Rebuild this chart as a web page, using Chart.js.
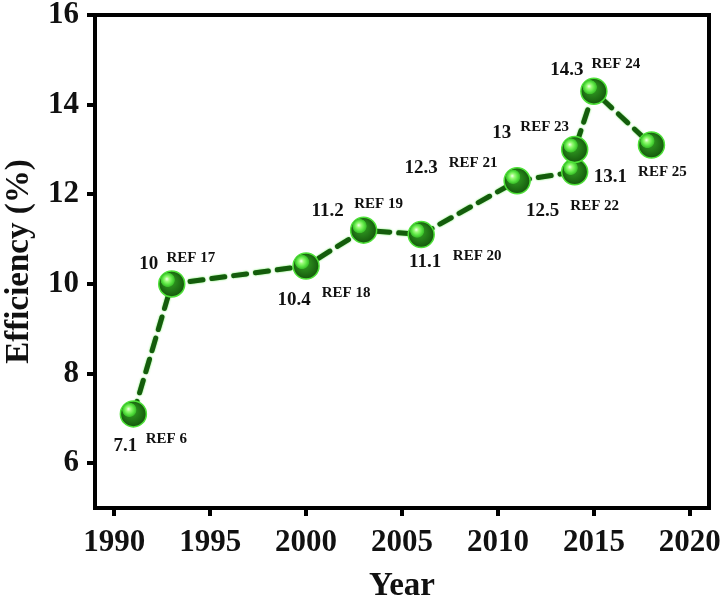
<!DOCTYPE html>
<html>
<head>
<meta charset="utf-8">
<title>Efficiency by year</title>
<script src="https://cdn.jsdelivr.net/npm/chart.js@4/dist/chart.umd.min.js"></script>
<style>
  html, body { margin: 0; padding: 0; background: #fff; }
  #wrap { width: 724px; height: 606px; position: relative; }
</style>
</head>
<body>
<div id="wrap"><canvas id="chart"></canvas></div>
<script>
// data
const years = [1991, 1993, 2000, 2003, 2006, 2011, 2014, 2014, 2015, 2018];
const efficiency = [7.1, 10, 10.4, 11.2, 11.1, 12.3, 12.5, 13.0, 14.3, 13.1];
const valueLabels = ['7.1', '10', '10.4', '11.2', '11.1', '12.3', '12.5', '13', '14.3', '13.1'];
const refLabels = ['REF 6', 'REF 17', 'REF 18', 'REF 19', 'REF 20', 'REF 21', 'REF 22', 'REF 23', 'REF 24', 'REF 25'];
const xTicks = [1990, 1995, 2000, 2005, 2010, 2015, 2020];
const yTicks = [6, 8, 10, 12, 14, 16];

// where each annotation sits relative to its point (px)
const valueOffsets = [[-8, 32], [-23, -20], [-12, 34], [-36, -19], [4, 27], [-96, -13], [-32, 39], [-73, -16], [-27, -21], [-41, 32]];
const refOffsets = [[33, 25], [19, -26], [40, 27], [15, -26], [56, 22], [-44, -18], [20, 34], [-30, -22], [22, -27], [11, 27]];

const SERIF = '"Liberation Serif", "Times New Roman", serif';

// outer box (top + right edge) like the original frame
const frame = {
  id: 'frame',
  afterDraw(chart){
    const {ctx, chartArea: a} = chart;
    ctx.save();
    ctx.strokeStyle = '#000';
    ctx.lineWidth = 4;
    ctx.beginPath();
    ctx.moveTo(a.left - 2, a.top);
    ctx.lineTo(a.right, a.top);
    ctx.lineTo(a.right, a.bottom + 2);
    ctx.stroke();
    ctx.restore();
  }
};

// thin light-green glow around the dashed line
const glow = {
  id: 'glow',
  beforeDatasetDraw(chart){
    chart.ctx.save();
    chart.ctx.shadowColor = 'rgba(80,230,60,0.9)';
    chart.ctx.shadowBlur = 2;
  },
  afterDatasetDraw(chart){
    chart.ctx.restore();
  }
};

// glossy sphere look + text labels
const spheres = {
  id: 'spheres',
  afterDatasetsDraw(chart){
    const ctx = chart.ctx;
    const meta = chart.getDatasetMeta(0);
    ctx.save();
    meta.data.forEach(pt => {
      const x = pt.x, y = pt.y;
      const body = ctx.createRadialGradient(x - 3, y - 4, 2, x, y, 14);
      body.addColorStop(0, '#33a323');
      body.addColorStop(0.6, '#207315');
      body.addColorStop(1, '#13530b');
      ctx.beginPath();
      ctx.arc(x, y, 13, 0, Math.PI * 2);
      ctx.fillStyle = body;
      ctx.fill();
      ctx.lineWidth = 1.5;
      ctx.strokeStyle = '#4ee238';
      ctx.stroke();
      const hl = ctx.createRadialGradient(x - 5, y - 5, 0, x - 4, y - 4, 7.5);
      hl.addColorStop(0, '#f4ffee');
      hl.addColorStop(0.3, '#9cfb7a');
      hl.addColorStop(0.65, '#5ae443');
      hl.addColorStop(0.9, '#3cc12b');
      hl.addColorStop(1, 'rgba(50,170,35,0)');
      ctx.beginPath();
      ctx.arc(x - 4, y - 4, 7.5, 0, Math.PI * 2);
      ctx.fillStyle = hl;
      ctx.fill();
    });
    ctx.fillStyle = '#111';
    ctx.textAlign = 'center';
    ctx.textBaseline = 'middle';
    meta.data.forEach((pt, i) => {
      ctx.font = 'bold 19px ' + SERIF;
      ctx.fillText(valueLabels[i], pt.x + valueOffsets[i][0], pt.y + valueOffsets[i][1]);
      ctx.font = 'bold 15px ' + SERIF;
      ctx.fillText(refLabels[i], pt.x + refOffsets[i][0], pt.y + refOffsets[i][1]);
    });
    ctx.restore();
  }
};

new Chart(document.getElementById('chart'), {
  type: 'line',
  data: {
    datasets: [{
      data: years.map((yr, i) => ({x: yr, y: efficiency[i]})),
      borderColor: '#145c0c',
      borderWidth: 5,
      borderDash: [13, 9],
      borderCapStyle: 'round',
      pointRadius: 0,
      pointHoverRadius: 0,
      tension: 0,
      fill: false
    }]
  },
  options: {
    responsive: true,
    maintainAspectRatio: false,
    animation: false,
    events: [],
    layout: {padding: {left: 0, right: 15, top: 15, bottom: 0}},
    plugins: {legend: {display: false}, tooltip: {enabled: false}},
    scales: {
      x: {
        type: 'linear',
        min: 1989,
        max: 2021,
        afterBuildTicks: s => { s.ticks = xTicks.map(v => ({value: v})); },
        afterFit: s => { s.height = 98; s.paddingLeft = 0; s.paddingRight = 0; },
        grid: {drawOnChartArea: false, drawTicks: true, tickLength: 8, color: '#000', lineWidth: 4},
        border: {display: true, color: '#000', width: 4},
        ticks: {
          color: '#111',
          padding: 8,
          maxRotation: 0,
          font: {family: SERIF, size: 31, weight: 'bold'},
          callback: v => String(v)
        },
        title: {
          display: true,
          text: 'Year',
          color: '#111',
          padding: {top: 11, bottom: 0},
          font: {family: SERIF, size: 33, weight: 'bold'}
        }
      },
      y: {
        min: 5,
        max: 16,
        afterBuildTicks: s => { s.ticks = yTicks.map(v => ({value: v})); },
        afterFit: s => { s.width = 95; s.paddingTop = 0; s.paddingBottom = 0; },
        grid: {drawOnChartArea: false, drawTicks: true, tickLength: 8, color: '#000', lineWidth: 4},
        border: {display: true, color: '#000', width: 4},
        ticks: {
          color: '#111',
          padding: 8,
          font: {family: SERIF, size: 31, weight: 'bold'},
          callback: v => String(v)
        },
        title: {
          display: true,
          text: 'Efficiency (%)',
          color: '#111',
          padding: {top: 0, bottom: 0},
          font: {family: SERIF, size: 33, weight: 'bold'}
        }
      }
    }
  },
  plugins: [frame, glow, spheres]
});
</script>
</body>
</html>
